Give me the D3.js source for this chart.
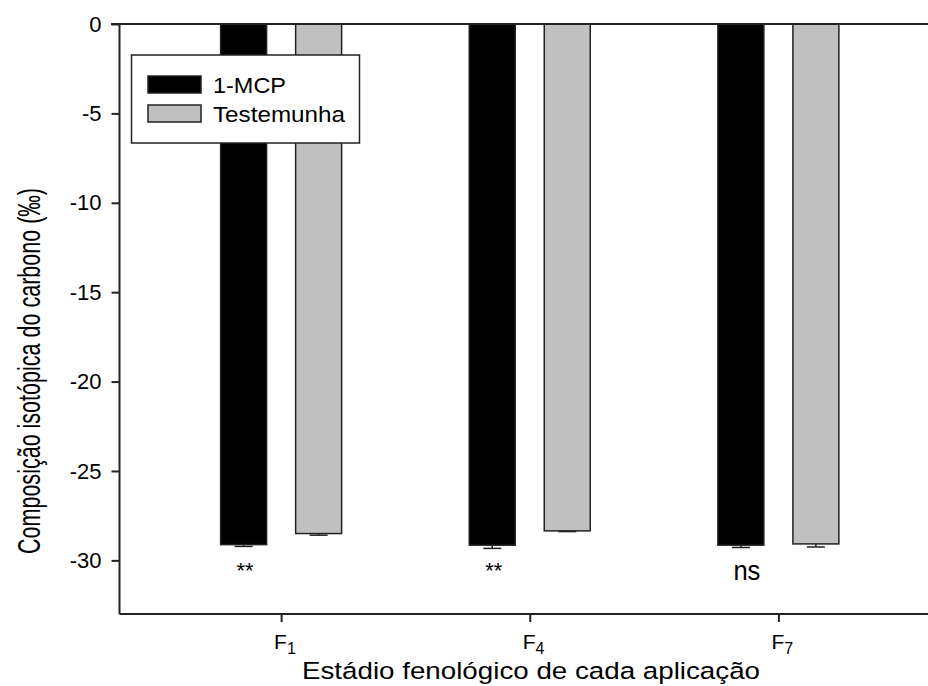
<!DOCTYPE html>
<html>
<head>
<meta charset="utf-8">
<script src="https://cdn.jsdelivr.net/npm/d3@7"></script>
<style>
  html, body { margin: 0; padding: 0; background: #fff; }
  svg text { font-family: "Liberation Sans", Arial, sans-serif; fill: #000; }
</style>
</head>
<body>
<svg id="chart" width="928" height="686"></svg>
<script>
// ---- data ----
const stages = ["F1", "F4", "F7"];
const stageBase = ["F", "F", "F"];
const stageSub = ["1", "4", "7"];
const seriesNames = ["1-MCP", "Testemunha"];
const mcpValues = [-29.12, -29.15, -29.15];
const mcpErrors = [0.10, 0.18, 0.13];
const testValues = [-28.50, -28.35, -29.08];
const testErrors = [0.09, 0.04, 0.17];
const significance = ["**", "**", "ns"];
const yTicks = [0, -5, -10, -15, -20, -25, -30];
const yDomain = [-33, 0];

const svg = d3.select("#chart");
const pLeft = 119.5, pRight = 940, pTop = 24, pBottom = 614;

const x = d3.scalePoint().domain(stages).range([pLeft, pRight]).padding(0.65);
const inner = d3.scaleBand().domain(seriesNames).range([-60.5, 60.5]).paddingInner(0.387).paddingOuter(0);
const y = d3.scaleLinear().domain(yDomain).range([pBottom, pTop]);

const colors = { "1-MCP": "#000000", "Testemunha": "#c0c0c0" };

const data = [];
stages.forEach((s, i) => {
  data.push({ stage: s, series: "1-MCP", value: mcpValues[i], err: mcpErrors[i] });
  data.push({ stage: s, series: "Testemunha", value: testValues[i], err: testErrors[i] });
});

// bars
svg.append("g").selectAll("rect").data(data).join("rect")
  .attr("x", d => x(d.stage) + inner(d.series))
  .attr("y", y(0))
  .attr("width", inner.bandwidth())
  .attr("height", d => y(d.value) - y(0))
  .attr("fill", d => colors[d.series])
  .attr("stroke", "#222")
  .attr("stroke-width", 1.5);

// error bars (downward)
const eg = svg.append("g").attr("stroke", "#222").attr("stroke-width", 1.5);
data.forEach(d => {
  const cx = x(d.stage) + inner(d.series) + inner.bandwidth() / 2;
  eg.append("line").attr("x1", cx).attr("x2", cx).attr("y1", y(d.value)).attr("y2", y(d.value - d.err));
  eg.append("line").attr("x1", cx - 9).attr("x2", cx + 9).attr("y1", y(d.value - d.err)).attr("y2", y(d.value - d.err));
});

// zero line / top
svg.append("line").attr("x1", 111).attr("x2", 928).attr("y1", y(0)).attr("y2", y(0))
  .attr("stroke", "#222").attr("stroke-width", 2);

// y axis
const yAxis = svg.append("g").attr("transform", `translate(${pLeft},0)`)
  .call(d3.axisLeft(y).tickValues(yTicks).tickSize(8).tickPadding(10).tickFormat(d3.format("d")));
yAxis.select(".domain").attr("stroke", "#222").attr("stroke-width", 2).attr("d", `M0,${pTop}V${pBottom}`);
yAxis.selectAll(".tick line").attr("stroke", "#222").attr("stroke-width", 2);
yAxis.selectAll(".tick text").attr("font-size", 22)
  .attr("font-family", "Liberation Sans, Arial, sans-serif").attr("fill", "#000")
  .text(d => d === 0 ? "0" : "-" + Math.abs(d));

// x axis
const xAxis = svg.append("g").attr("transform", `translate(0,${pBottom})`)
  .call(d3.axisBottom(x).tickSize(8).tickFormat(""));
xAxis.select(".domain").attr("stroke", "#222").attr("stroke-width", 2).attr("d", `M${pLeft},0H928`);
xAxis.selectAll(".tick line").attr("stroke", "#222").attr("stroke-width", 2);
stages.forEach((s, i) => {
  const t = svg.append("text").attr("x", x(s) - 7).attr("y", 649).attr("text-anchor", "start").attr("font-size", 21);
  t.append("tspan").text(stageBase[i]);
  t.append("tspan").attr("dy", 5).attr("font-size", 16).text(stageSub[i]);
});

// significance labels
stages.forEach((s, i) => {
  const cx = x(s) + inner("1-MCP") + inner.bandwidth() / 2;
  const isStar = significance[i] === "**";
  const t = svg.append("text").attr("text-anchor", "middle").text(significance[i]);
  if (isStar) {
    t.attr("x", cx + 1.5).attr("y", 578).attr("font-size", 22);
  } else {
    t.attr("x", cx + 6).attr("y", 580).attr("font-size", 28)
      .attr("textLength", 27).attr("lengthAdjust", "spacingAndGlyphs");
  }
});

// axis titles
svg.append("text").attr("x", 531).attr("y", 679).attr("text-anchor", "middle")
  .attr("font-size", 24.5).attr("textLength", 458).attr("lengthAdjust", "spacingAndGlyphs")
  .text("Estádio fenológico de cada aplicação");
svg.append("text").attr("transform", "translate(40,371) rotate(-90)").attr("text-anchor", "middle")
  .attr("font-size", 31).attr("textLength", 366).attr("lengthAdjust", "spacingAndGlyphs")
  .text("Composição isotópica do carbono (‰)");

// legend
const legendWidths = [73, 132];
const lg = svg.append("g");
lg.append("rect").attr("x", 131.5).attr("y", 55).attr("width", 228).attr("height", 88)
  .attr("fill", "#fff").attr("stroke", "#222").attr("stroke-width", 1.5);
seriesNames.forEach((n, i) => {
  const yy = 76 + i * 29;
  lg.append("rect").attr("x", 148).attr("y", yy).attr("width", 53).attr("height", 17)
    .attr("fill", colors[n]).attr("stroke", "#222").attr("stroke-width", 1.5);
  lg.append("text").attr("x", 213).attr("y", yy + 17).attr("font-size", 22)
    .attr("textLength", legendWidths[i]).attr("lengthAdjust", "spacingAndGlyphs").text(n);
});
</script>
</body>
</html>
